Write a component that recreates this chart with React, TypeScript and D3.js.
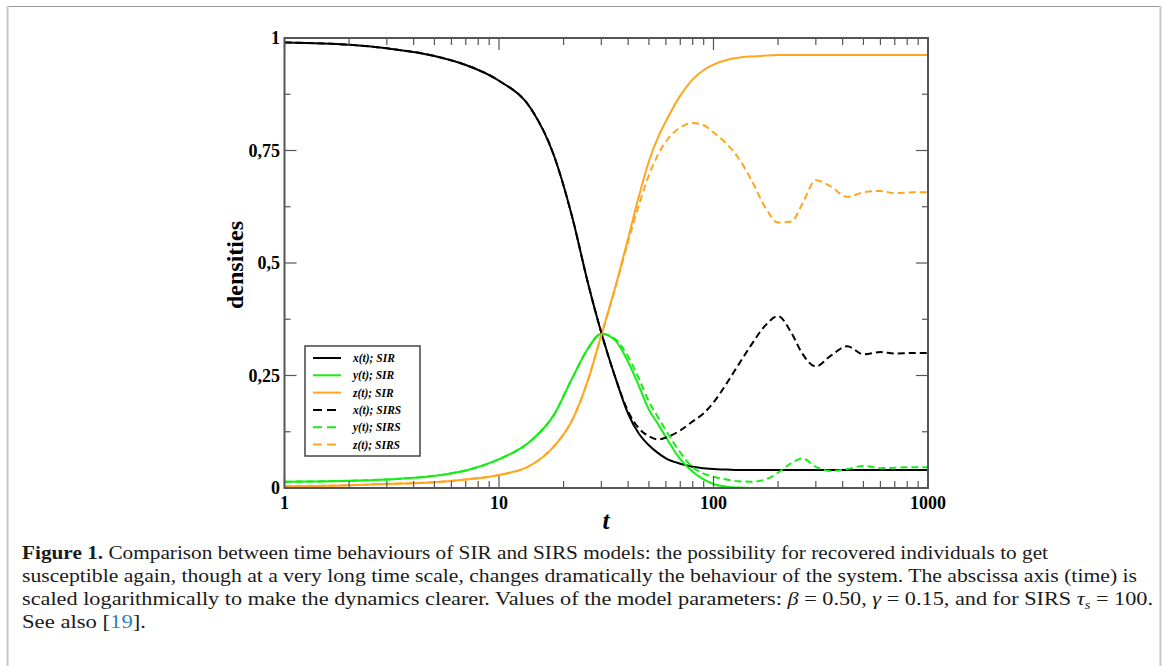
import React from "react";
import * as d3 from "d3";

const T = [1, 2, 3, 5, 7, 10, 14, 18, 22, 26, 30, 35, 40, 45, 50, 55, 60, 70, 80, 90, 100, 115, 130, 150, 175, 200, 230, 260, 300, 350, 420, 500, 600, 700, 850, 1000];

const xSIR = [0.99, 0.985, 0.977, 0.96, 0.94, 0.905, 0.845, 0.74, 0.6, 0.455, 0.345, 0.243, 0.165, 0.12, 0.095, 0.078, 0.066, 0.054, 0.047, 0.044, 0.042, 0.041, 0.04, 0.04, 0.04, 0.04, 0.04, 0.04, 0.04, 0.04, 0.04, 0.04, 0.04, 0.04, 0.04, 0.04];
const ySIR = [0.014, 0.016, 0.019, 0.027, 0.039, 0.064, 0.104, 0.162, 0.245, 0.31, 0.343, 0.327, 0.28, 0.226, 0.174, 0.143, 0.113, 0.064, 0.036, 0.019, 0.009, 0.003, 0.001, 0, 0, 0, 0, 0, 0, 0, 0, 0, 0, 0, 0, 0];
const zSIR = [0.004, 0.006, 0.009, 0.013, 0.019, 0.029, 0.05, 0.092, 0.152, 0.24, 0.34, 0.45, 0.555, 0.65, 0.726, 0.778, 0.815, 0.872, 0.908, 0.929, 0.941, 0.951, 0.956, 0.959, 0.961, 0.962, 0.962, 0.962, 0.962, 0.962, 0.962, 0.962, 0.962, 0.962, 0.962, 0.962];

const xSIRS = [0.99, 0.985, 0.977, 0.96, 0.94, 0.905, 0.845, 0.74, 0.6, 0.455, 0.345, 0.243, 0.17, 0.132, 0.115, 0.108, 0.112, 0.128, 0.148, 0.166, 0.19, 0.232, 0.272, 0.318, 0.362, 0.382, 0.346, 0.298, 0.27, 0.293, 0.315, 0.297, 0.302, 0.299, 0.3, 0.3];
const ySIRS = [0.014, 0.016, 0.019, 0.027, 0.039, 0.064, 0.104, 0.162, 0.245, 0.31, 0.343, 0.33, 0.292, 0.242, 0.192, 0.158, 0.128, 0.079, 0.046, 0.032, 0.025, 0.019, 0.015, 0.014, 0.019, 0.034, 0.055, 0.066, 0.047, 0.038, 0.042, 0.049, 0.044, 0.045, 0.046, 0.046];
const zSIRS = [0.004, 0.006, 0.009, 0.013, 0.019, 0.029, 0.05, 0.092, 0.152, 0.24, 0.34, 0.448, 0.548, 0.63, 0.695, 0.74, 0.77, 0.801, 0.811, 0.806, 0.79, 0.765, 0.735, 0.685, 0.622, 0.59, 0.592, 0.632, 0.684, 0.671, 0.647, 0.657, 0.66, 0.655, 0.657, 0.657];

const yTickValues = [0, 0.25, 0.5, 0.75, 1];
const yTickLabels = ["0", "0,25", "0,5", "0,75", "1"];
const yMinorValues = [0.125, 0.375, 0.625, 0.875];
const xTickValues = [1, 10, 100, 1000];
const xTickLabels = ["1", "10", "100", "1000"];

const BLACK = "#000000";
const GREEN = "#14ee14";
const ORANGE = "#ffa51e";

const series = [
  { name: "x(t); SIR", values: xSIR, color: BLACK, dashed: false },
  { name: "y(t); SIR", values: ySIR, color: GREEN, dashed: false },
  { name: "z(t); SIR", values: zSIR, color: ORANGE, dashed: false },
  { name: "x(t); SIRS", values: xSIRS, color: BLACK, dashed: true },
  { name: "y(t); SIRS", values: ySIRS, color: GREEN, dashed: true },
  { name: "z(t); SIRS", values: zSIRS, color: ORANGE, dashed: true },
];

const captionLines = [
  "Comparison between time behaviours of SIR and SIRS models: the possibility for recovered individuals to get",
  "susceptible again, though at a very long time scale, changes dramatically the behaviour of the system. The abscissa axis (time) is",
];

export default function App() {
  const left = 284.5, right = 928, top = 38, bottom = 488;
  const x = d3.scaleLog().domain([1, 1000]).range([left, right]);
  const y = d3.scaleLinear().domain([0, 1]).range([bottom, top]);

  const line = d3
    .line<number>()
    .x((_, i) => x(T[i]))
    .y((v) => y(v))
    .curve(d3.curveMonotoneX);

  const xMinor: number[] = [];
  [1, 10, 100].forEach((dec) => {
    for (let k = 2; k <= 9; k++) xMinor.push(dec * k);
  });

  const serif = "'Liberation Serif', 'Times New Roman', serif";
  const axisColor = "#555";
  const majorLen = 12;
  const minorLen = 6;

  const legendX = 305, legendY = 346, legendW = 115, legendH = 110;
  const legendRowY = (i: number) => 358 + i * 17.3;

  return (
    <svg
      width={1167}
      height={666}
      style={{ position: "absolute", left: 0, top: 0, background: "#fff" }}
    >
      <rect x={0} y={0} width={1167} height={666} fill="#fff" />
      {/* figure frame */}
      <line x1={7} y1={6.5} x2={1161} y2={6.5} stroke="#9a9a9a" strokeWidth={1} />
      <line x1={7.5} y1={6} x2={7.5} y2={666} stroke="#c8c8c8" strokeWidth={2} />
      <line x1={1160.5} y1={6} x2={1160.5} y2={666} stroke="#c8c8c8" strokeWidth={2} />

      <defs>
        <clipPath id="plotClip">
          <rect x={left} y={top} width={right - left} height={bottom - top} />
        </clipPath>
      </defs>

      {/* curves */}
      <g clipPath="url(#plotClip)" fill="none">
        {series.map((s) => (
          <path
            key={s.name}
            d={line(s.values) || ""}
            stroke={s.color}
            strokeWidth={2}
            strokeDasharray={s.dashed ? "7,4" : undefined}
          />
        ))}
      </g>

      {/* ticks */}
      <g stroke={axisColor} strokeWidth={1.2}>
        {xTickValues.map((v) => (
          <g key={"xt" + v}>
            <line x1={x(v)} x2={x(v)} y1={bottom} y2={bottom - majorLen} />
            <line x1={x(v)} x2={x(v)} y1={top} y2={top + majorLen} />
          </g>
        ))}
        {xMinor.map((v) => (
          <g key={"xm" + v}>
            <line x1={x(v)} x2={x(v)} y1={bottom} y2={bottom - minorLen - 1} />
            <line x1={x(v)} x2={x(v)} y1={top} y2={top + minorLen + 1} />
          </g>
        ))}
        {yTickValues.map((v) => (
          <g key={"yt" + v}>
            <line x1={left} x2={left + majorLen} y1={y(v)} y2={y(v)} />
            <line x1={right} x2={right - majorLen} y1={y(v)} y2={y(v)} />
          </g>
        ))}
        {yMinorValues.map((v) => (
          <g key={"ym" + v}>
            <line x1={left} x2={left + minorLen} y1={y(v)} y2={y(v)} />
            <line x1={right} x2={right - minorLen} y1={y(v)} y2={y(v)} />
          </g>
        ))}
      </g>

      {/* frame */}
      <rect
        x={left}
        y={top}
        width={right - left}
        height={bottom - top}
        fill="none"
        stroke={axisColor}
        strokeWidth={2}
      />

      {/* tick labels */}
      <g fontFamily={serif} fontWeight="bold" fontSize={18} fill="#000">
        {yTickValues.map((v, i) => (
          <text key={"yl" + v} x={280} y={y(v)} dy="0.35em" textAnchor="end">
            {yTickLabels[i]}
          </text>
        ))}
        {xTickValues.map((v, i) => (
          <text key={"xl" + v} x={x(v)} y={509} textAnchor="middle">
            {xTickLabels[i]}
          </text>
        ))}
      </g>

      {/* axis titles */}
      <text
        transform="translate(243,265) rotate(-90)"
        textAnchor="middle"
        fontFamily={serif}
        fontWeight="bold"
        fontSize={24}
        fill="#000"
      >
        densities
      </text>
      <text
        x={606}
        y={529}
        textAnchor="middle"
        fontFamily={serif}
        fontWeight="bold"
        fontStyle="italic"
        fontSize={25}
        fill="#000"
      >
        t
      </text>

      {/* legend */}
      <rect
        x={legendX}
        y={legendY}
        width={legendW}
        height={legendH}
        fill="#fff"
        stroke="#444"
        strokeWidth={1.5}
      />
      {series.map((s, i) => (
        <g key={"lg" + s.name}>
          <line
            x1={313}
            x2={341}
            y1={legendRowY(i)}
            y2={legendRowY(i)}
            stroke={s.color}
            strokeWidth={2}
            strokeDasharray={s.dashed ? "9,5" : undefined}
          />
          <text
            x={353}
            y={legendRowY(i)}
            dy="0.35em"
            fontFamily={serif}
            fontWeight="bold"
            fontStyle="italic"
            fontSize={11.5}
            fill="#000"
          >
            {s.name}
          </text>
        </g>
      ))}

      {/* caption */}
      <g fontFamily={serif} fontSize={18.5} fill="#1a1a1a">
        <text x={22} y={559} textLength={1026} lengthAdjust="spacingAndGlyphs">
          <tspan fontWeight="bold">Figure 1.</tspan>
          <tspan> {captionLines[0]}</tspan>
        </text>
        <text x={22} y={582} textLength={1115} lengthAdjust="spacingAndGlyphs">
          {captionLines[1]}
        </text>
        <text x={22} y={605} textLength={1131} lengthAdjust="spacingAndGlyphs">
          <tspan>scaled logarithmically to make the dynamics clearer. Values of the model parameters: </tspan>
          <tspan fontStyle="italic">β</tspan>
          <tspan> = 0.50, </tspan>
          <tspan fontStyle="italic">γ</tspan>
          <tspan> = 0.15, and for SIRS </tspan>
          <tspan fontStyle="italic">τ</tspan>
          <tspan fontStyle="italic" fontSize={12} dy={4}>s</tspan>
          <tspan dy={-4}> = 100.</tspan>
        </text>
        <text x={22} y={628} textLength={124} lengthAdjust="spacingAndGlyphs">
          <tspan>See also [</tspan>
          <tspan fill="#2b7fb8">19</tspan>
          <tspan>].</tspan>
        </text>
      </g>
    </svg>
  );
}
